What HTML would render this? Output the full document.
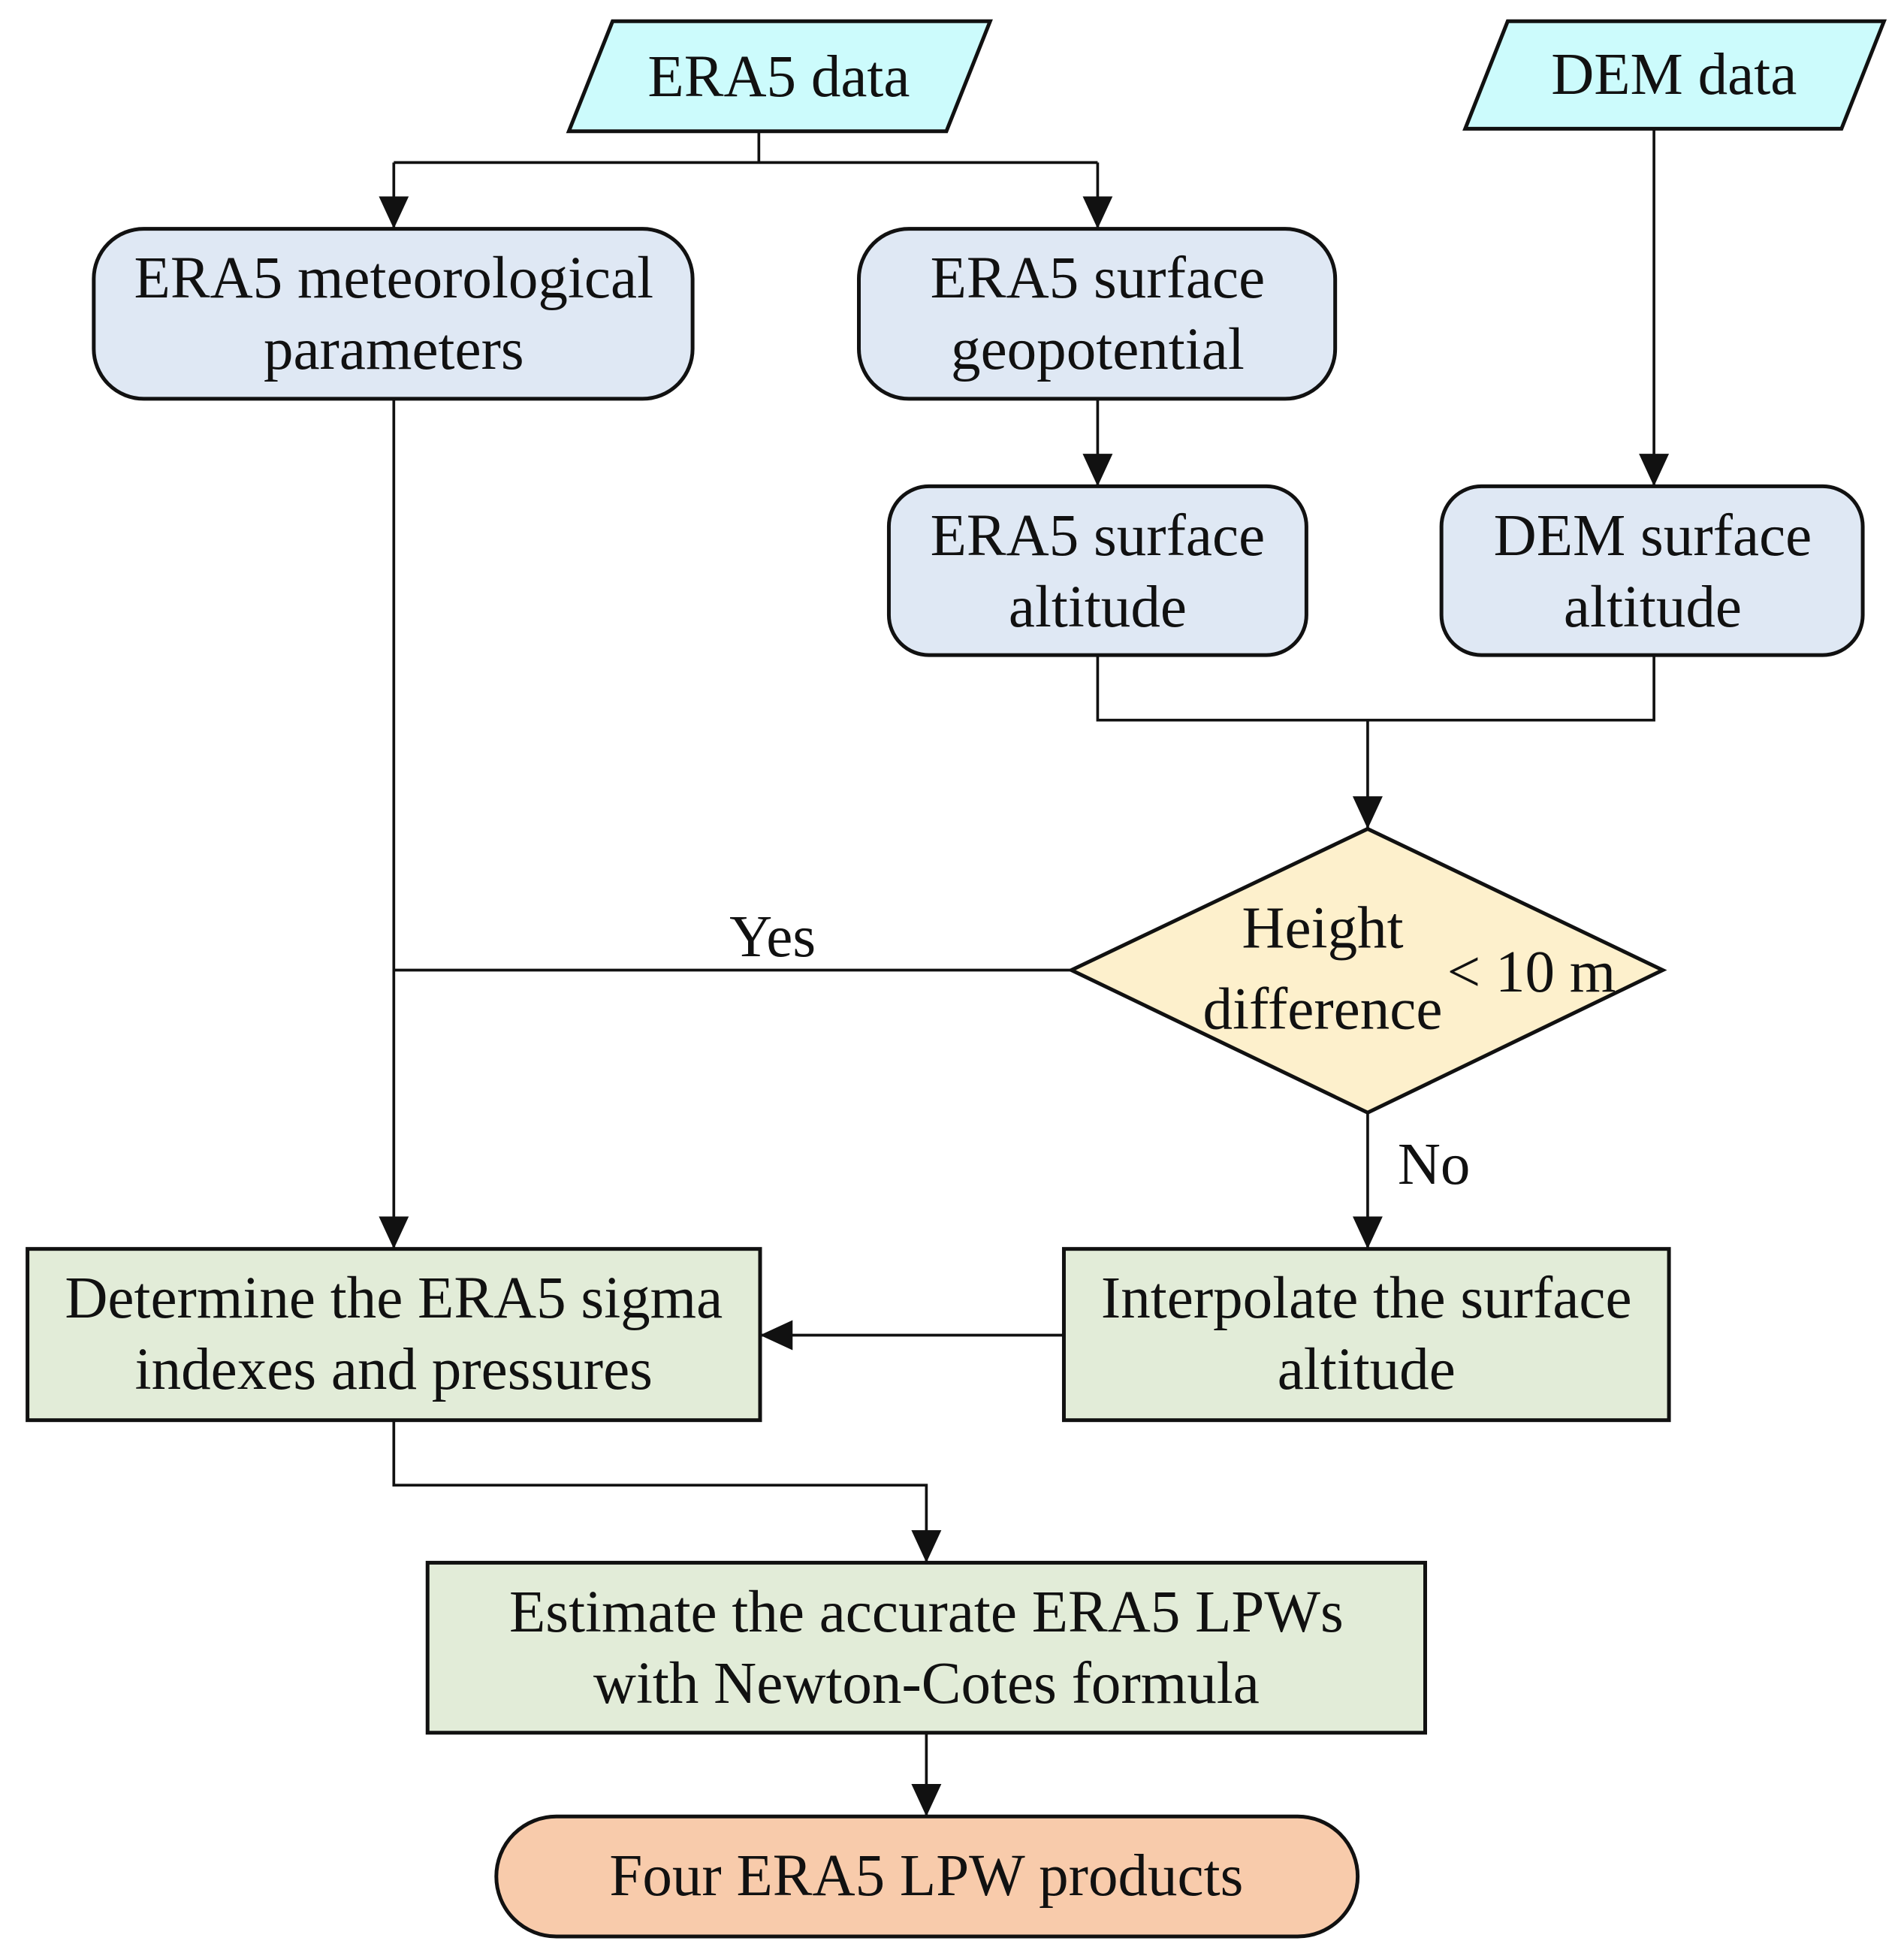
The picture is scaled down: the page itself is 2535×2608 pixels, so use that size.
<!DOCTYPE html>
<html><head><meta charset="utf-8"><style>
html,body{margin:0;padding:0;background:#fff;}
svg{display:block;}
text{font-family:"Liberation Serif",serif;font-size:47.5px;fill:#111;text-anchor:middle;}
</style></head><body>
<svg width="2535" height="2608" viewBox="0 0 1523 1567" preserveAspectRatio="none" xmlns="http://www.w3.org/2000/svg">
<defs>
<marker id="ah" markerWidth="26" markerHeight="26" refX="26" refY="13" orient="auto" markerUnits="userSpaceOnUse" viewBox="0 0 26 26"><path d="M0,1 L26,13 L0,25 z" fill="#111"/></marker></defs>
<g stroke="#111" stroke-width="3">
<polygon points="490,17 792,17 757,105 455,105" fill="#ccfbfc"/>
<polygon points="1206,17 1507,17 1473,103 1172,103" fill="#ccfbfc"/>
<rect x="75" y="183" width="479" height="136" rx="40" fill="#dfe8f4"/>
<rect x="687" y="183" width="381" height="136" rx="40" fill="#dfe8f4"/>
<rect x="711" y="389" width="334" height="135" rx="32" fill="#dfe8f4"/>
<rect x="1153" y="389" width="337" height="135" rx="32" fill="#dfe8f4"/>
<polygon points="1094,663 1330,776 1094,890 857,776" fill="#fdf0cc"/>
<rect x="22" y="999" width="586" height="137" fill="#e2ecd8"/>
<rect x="851" y="999" width="484" height="137" fill="#e2ecd8"/>
<rect x="342" y="1250" width="798" height="136" fill="#e2ecd8"/>
<rect x="397" y="1453" width="689" height="96" rx="48" fill="#f8cbab"/>
</g>
<g stroke="#111" stroke-width="2.2" fill="none">
<path d="M607,105 V130 M315,130 H878"/>
<path d="M315,130 V183" marker-end="url(#ah)"/>
<path d="M878,130 V183" marker-end="url(#ah)"/>
<path d="M878,319 V389" marker-end="url(#ah)"/>
<path d="M1323,103 V389" marker-end="url(#ah)"/>
<path d="M878,524 V576 H1323 V524"/>
<path d="M1094,576 V663" marker-end="url(#ah)"/>
<path d="M315,776 H857"/>
<path d="M315,319 V999" marker-end="url(#ah)"/>
<path d="M1094,890 V999" marker-end="url(#ah)"/>
<path d="M851,1068 H608" marker-end="url(#ah)"/>
<path d="M315,1136 V1188 H741 V1250" marker-end="url(#ah)"/>
<path d="M741,1386 V1453" marker-end="url(#ah)"/>
</g>
<text x="623" y="77">ERA5 data</text>
<text x="1339" y="75">DEM data</text>
<text x="315" y="238">ERA5 meteorological</text>
<text x="315" y="295">parameters</text>
<text x="878" y="238">ERA5 surface</text>
<text x="878" y="295">geopotential</text>
<text x="878" y="444">ERA5 surface</text>
<text x="878" y="501">altitude</text>
<text x="1322" y="444">DEM surface</text>
<text x="1322" y="501">altitude</text>
<text x="1058" y="758">Height</text>
<text x="1058" y="823">difference</text>
<text x="1225" y="793">&lt; 10 m</text>
<text x="618" y="765">Yes</text>
<text x="1147" y="947">No</text>
<text x="315" y="1054">Determine the ERA5 sigma</text>
<text x="315" y="1111">indexes and pressures</text>
<text x="1093" y="1054">Interpolate the surface</text>
<text x="1093" y="1111">altitude</text>
<text x="741" y="1305">Estimate the accurate ERA5 LPWs</text>
<text x="741" y="1362">with Newton-Cotes formula</text>
<text x="741" y="1516">Four ERA5 LPW products</text>
</svg>
</body></html>
